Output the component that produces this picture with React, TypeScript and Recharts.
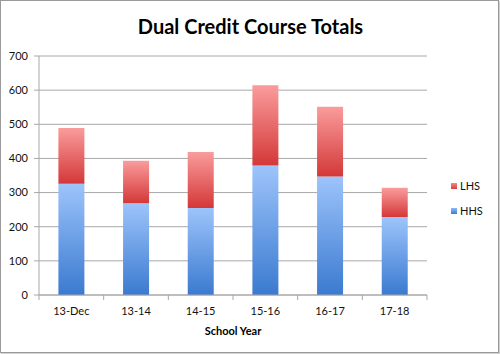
import { BarChart, Bar, XAxis, YAxis, CartesianGrid, Legend } from 'recharts';

const YEARS = ['13-Dec', '13-14', '14-15', '15-16', '16-17', '17-18'];
const HHS = [326, 269, 255, 379, 347, 228];
const LHS = [163, 124, 164, 235, 204, 86];
const Y_TICKS = [0, 100, 200, 300, 400, 500, 600, 700];

const data = YEARS.map((year, i) => ({ year, HHS: HHS[i], LHS: LHS[i] }));

const FONT = 'Lato, "Open Sans", sans-serif';
const GRID = '#a8a8a8';

// category ticks: label in the middle, tick mark on the band edges
function YearTick(props: any) {
  const { x, y, payload, index } = props;
  const half = payload.offset ?? 0;
  const axisY = y - 12;
  return (
    <g>
      <line x1={x - half} y1={axisY} x2={x - half} y2={axisY + 5} stroke={GRID} />
      {index === YEARS.length - 1 && (
        <line x1={x + half} y1={axisY} x2={x + half} y2={axisY + 5} stroke={GRID} />
      )}
      <text x={x} y={y} dy="0.71em" textAnchor="middle" fill="#111" fontSize={11} fontFamily={FONT}>
        {payload.value}
      </text>
    </g>
  );
}

function LegendBox() {
  const items = [
    { name: 'LHS', bg: 'linear-gradient(#f28b8b, #d63c3c)' },
    { name: 'HHS', bg: 'linear-gradient(#8fb8f5, #3c7dd2)' },
  ];
  return (
    <div style={{ fontFamily: FONT, fontSize: 11, color: '#111' }}>
      {items.map((it) => (
        <div key={it.name} style={{ display: 'flex', alignItems: 'center', height: 25 }}>
          <span
            style={{
              display: 'inline-block',
              flex: 'none',
              width: 6,
              height: 6,
              background: it.bg,
              marginRight: 3,
              marginLeft: 24,
            }}
          />
          <span>{it.name}</span>
        </div>
      ))}
    </div>
  );
}

export default function App() {
  return (
    <div
      style={{
        position: 'absolute',
        left: 0,
        top: 0,
        width: 497,
        height: 351,
        border: '1px solid #9a9a9a',
        boxShadow: '1px 1px 1px #d0d0d0',
        background: '#fff',
      }}
    >
      <div
        style={{
          position: 'absolute',
          left: 0,
          width: 499,
          top: 13,
          textAlign: 'center',
          fontFamily: FONT,
          fontWeight: 700,
          fontSize: 20,
          color: '#000',
        }}
      >
        Dual Credit Course Totals
      </div>
      <div style={{ position: 'absolute', left: -1, top: -1 }}>
        <BarChart
          width={500}
          height={354}
          data={data}
          barCategoryGap="30%"
          margin={{ top: 56, right: 23, bottom: 19, left: 0 }}
        >
          <defs>
            <linearGradient id="gradHHS" x1="0" y1="0" x2="0" y2="1">
              <stop offset="0%" stopColor="#9dc4fb" />
              <stop offset="100%" stopColor="#3a7ad0" />
            </linearGradient>
            <linearGradient id="gradLHS" x1="0" y1="0" x2="0" y2="1">
              <stop offset="0%" stopColor="#fa9c9c" />
              <stop offset="100%" stopColor="#d43838" />
            </linearGradient>
          </defs>
          <CartesianGrid vertical={false} stroke={GRID} strokeWidth={1} />
          <XAxis
            dataKey="year"
            height={40}
            axisLine={{ stroke: GRID }}
            tickLine={false}
            tick={<YearTick />}
            tickMargin={6}
            label={{
              value: 'School Year',
              position: 'insideBottom',
              offset: 0,
              fill: '#000',
              fontSize: 11,
              fontWeight: 700,
              fontFamily: FONT,
            }}
          />
          <YAxis
            width={39}
            domain={[0, 700]}
            ticks={Y_TICKS}
            interval={0}
            axisLine={{ stroke: GRID }}
            tickLine={{ stroke: GRID }}
            tickSize={5}
            tickMargin={6}
            tick={{ fill: '#111', fontSize: 11, fontFamily: FONT }}
          />
          <Legend
            layout="vertical"
            align="right"
            verticalAlign="middle"
            content={<LegendBox />}
            wrapperStyle={{ width: 50, top: 173, right: 23 }}
          />
          <Bar dataKey="HHS" stackId="a" fill="url(#gradHHS)" isAnimationActive={false} />
          <Bar dataKey="LHS" stackId="a" fill="url(#gradLHS)" isAnimationActive={false} />
        </BarChart>
      </div>
    </div>
  );
}
